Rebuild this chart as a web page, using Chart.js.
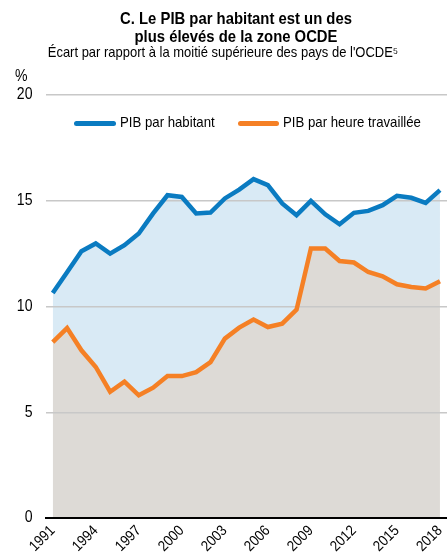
<!DOCTYPE html>
<html>
<head>
<meta charset="utf-8">
<script src="https://cdn.jsdelivr.net/npm/chart.js@4/dist/chart.umd.min.js"></script>
<style>
  body { margin: 0; background: #fff; }
  #wrap { position: relative; width: 447px; height: 554px; overflow: hidden; font-family: 'Liberation Sans', Arial, sans-serif; color: #000; }
  #wrap canvas { position: absolute; left: 0; top: 0; }
  .txt { position: absolute; white-space: nowrap; line-height: 1; transform-origin: left center; transform: scaleX(0.88); }
  .title { font-size: 16.5px; font-weight: bold; text-align: center; width: 400px; left: 36px; transform-origin: center; transform: scaleX(0.9); }
  .sub { font-size: 14.5px; text-align: center; width: 400px; left: 23px; top: 45.4px; transform-origin: center; transform: scaleX(0.895); }
  .leg { font-size: 15px; top: 114.3px; }
  .swatch { position: absolute; height: 4.5px; border-radius: 3px; top: 121px; }
</style>
</head>
<body>
<div id="wrap">
  <canvas id="myChart" width="447" height="554"></canvas>
  <div class="txt title" style="top:10px">C. Le PIB par habitant est un des</div>
  <div class="txt title" style="top:27.5px">plus élevés de la zone OCDE</div>
  <div class="txt sub">Écart par rapport à la moitié supérieure des pays de l'OCDE⁵</div>
  <div class="txt" style="font-size:16px;left:15px;top:68px">%</div>
  <div class="swatch" style="left:74px;width:42px;background:#0A7BC1"></div>
  <div class="txt leg" style="left:120px">PIB par habitant</div>
  <div class="swatch" style="left:238px;width:41px;background:#F58025"></div>
  <div class="txt leg" style="left:283px">PIB par heure travaillée</div>
</div>
<script>
// Chart data
const years = [1991, 1992, 1993, 1994, 1995, 1996, 1997, 1998, 1999, 2000,
  2001, 2002, 2003, 2004, 2005, 2006, 2007, 2008, 2009, 2010,
  2011, 2012, 2013, 2014, 2015, 2016, 2017, 2018];
const gdpPerCapita = [10.64, 11.62, 12.61, 12.98, 12.50, 12.90, 13.45, 14.40, 15.26, 15.18,
  14.40, 14.44, 15.11, 15.53, 16.02, 15.74, 14.87, 14.32, 14.99, 14.36,
  13.89, 14.43, 14.52, 14.79, 15.23, 15.14, 14.90, 15.50];
const gdpPerHour = [8.32, 8.98, 7.93, 7.14, 5.97, 6.45, 5.80, 6.16, 6.71, 6.71,
  6.90, 7.37, 8.48, 9.00, 9.38, 9.03, 9.19, 9.85, 12.74, 12.74,
  12.15, 12.08, 11.63, 11.43, 11.05, 10.92, 10.85, 11.19];
const xTicks = [1991, 1994, 1997, 2000, 2003, 2006, 2009, 2012, 2015, 2018];
const yTicks = [0, 5, 10, 15, 20];

const fontFamily = "'Liberation Sans', Arial, sans-serif";

// the original uses a slightly condensed face: squeeze canvas text horizontally
const narrowText = {
  id: 'narrowText',
  beforeInit(chart) {
    const c = chart.ctx;
    const orig = c.fillText;
    c.fillText = function(text, x, y, maxWidth) {
      this.save();
      this.translate(x, y);
      this.scale(0.88, 1);
      orig.call(this, text, 0, 0, maxWidth);
      this.restore();
    };
  }
};

const ctx = document.getElementById('myChart').getContext('2d');
new Chart(ctx, {
  type: 'line',
  data: {
    datasets: [{
      label: 'PIB par habitant',
      data: years.map((yr, i) => ({ x: yr, y: gdpPerCapita[i] })),
      borderColor: '#0A7BC1',
      backgroundColor: '#D9EAF5',
      borderWidth: 4.5,
      pointRadius: 0,
      tension: 0,
      fill: '+1'
    }, {
      label: 'PIB par heure travaillée',
      data: years.map((yr, i) => ({ x: yr, y: gdpPerHour[i] })),
      borderColor: '#F58025',
      backgroundColor: '#DDDAD6',
      borderWidth: 4.5,
      pointRadius: 0,
      tension: 0,
      fill: 'origin'
    }]
  },
  plugins: [narrowText],
  options: {
    responsive: false,
    animation: false,
    layout: { padding: { top: 95, left: 0, right: 0, bottom: 0 } },
    plugins: {
      legend: { display: false },
      title: { display: false },
      tooltip: { enabled: false },
      filler: { drawTime: 'beforeDraw' }
    },
    scales: {
      x: {
        type: 'linear',
        min: 1990.53,
        max: 2018.49,
        afterBuildTicks: scale => { scale.ticks = xTicks.map(v => ({ value: v })); },
        afterFit: scale => { scale.height = 36; scale.paddingLeft = 0; scale.paddingRight = 0; },
        grid: { display: false, drawTicks: false },
        border: { display: true, color: '#000', width: 2 },
        ticks: {
          autoSkip: false,
          minRotation: 45,
          maxRotation: 45,
          padding: 4,
          color: '#000',
          font: { family: fontFamily, size: 15 },
          callback: v => String(v)
        }
      },
      y: {
        min: 0,
        max: 20,
        afterBuildTicks: scale => { scale.ticks = yTicks.map(v => ({ value: v })); },
        afterFit: scale => { scale.width = 46; },
        grid: { color: '#C8C8C8', lineWidth: 1.5, drawTicks: false },
        border: { display: false },
        ticks: {
          padding: 13.5,
          color: '#000',
          font: { family: fontFamily, size: 16 }
        }
      }
    }
  }
});
</script>
</body>
</html>
